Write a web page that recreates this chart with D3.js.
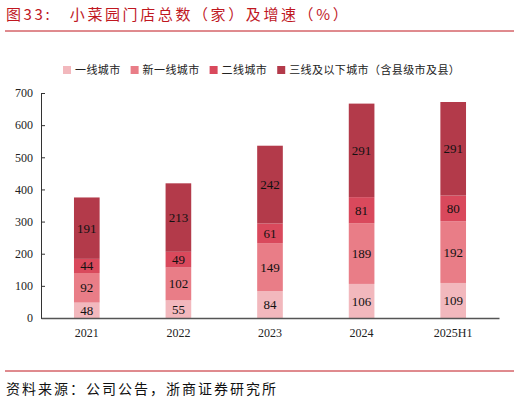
<!DOCTYPE html>
<html>
<head>
<meta charset="utf-8">
<script src="https://cdn.jsdelivr.net/npm/d3@7/dist/d3.min.js"></script>
<style>
  body { margin: 0; background: #fff; }
  svg { display: block; }
</style>
</head>
<body>
<svg id="chart" width="520" height="402"></svg>
<script>
// data
const years = ['2021', '2022', '2023', '2024', '2025H1'];
const seriesNames = ['一线城市', '新一线城市', '二线城市', '三线及以下城市（含县级市及县）'];
const tier1 = [48, 55, 84, 106, 109];
const newTier1 = [92, 102, 149, 189, 192];
const tier2 = [44, 49, 61, 81, 80];
const tier3 = [191, 213, 242, 291, 291];
const yTicks = [0, 100, 200, 300, 400, 500, 600, 700];

const colors = ['#f2b8bd', '#e97d87', '#d9495c', '#b33a4a'];
const serif = "'Liberation Serif', 'Times New Roman', serif";
const cjk = "'Noto Sans CJK SC', sans-serif";

const svg = d3.select('#chart');
const margin = { left: 41, right: 21, top: 93, bottom: 84 };
const W = 520, H = 402;

// title + rules
svg.append('text')
  .attr('x', 6).attr('y', 20)
  .attr('fill', '#c0171f')
  .attr('font-family', cjk)
  .attr('font-size', 15)
  .attr('letter-spacing', 2.6)
  .text('图33:　小菜园门店总数（家）及增速（%）');

svg.append('line')
  .attr('x1', 5).attr('x2', 514).attr('y1', 31).attr('y2', 31)
  .attr('stroke', '#c0171f').attr('stroke-width', 1);

svg.append('line')
  .attr('x1', 5).attr('x2', 514).attr('y1', 371).attr('y2', 371)
  .attr('stroke', '#c0171f').attr('stroke-width', 1);

svg.append('text')
  .attr('x', 6).attr('y', 394)
  .attr('fill', '#111')
  .attr('font-family', cjk)
  .attr('font-size', 14)
  .attr('letter-spacing', 2)
  .text('资料来源：公司公告，浙商证券研究所');

// stack the series
const rows = years.map((y, i) => ({ year: y, s0: tier1[i], s1: newTier1[i], s2: tier2[i], s3: tier3[i] }));
const stacked = d3.stack().keys(['s0', 's1', 's2', 's3'])(rows);

const x = d3.scaleBand()
  .domain(years)
  .range([margin.left, W - margin.right])
  .paddingInner(0.72)
  .paddingOuter(0.36);

const y = d3.scaleLinear()
  .domain([0, 700])
  .range([H - margin.bottom, margin.top]);

const layers = svg.append('g').selectAll('g')
  .data(stacked)
  .enter()
  .append('g')
  .attr('fill', (d, i) => colors[i]);

layers.selectAll('rect')
  .data(d => d)
  .enter()
  .append('rect')
  .attr('x', d => x(d.data.year))
  .attr('y', d => y(d[1]))
  .attr('width', x.bandwidth())
  .attr('height', d => y(d[0]) - y(d[1]));

layers.selectAll('text')
  .data(d => d)
  .enter()
  .append('text')
  .attr('x', d => x(d.data.year) + x.bandwidth() / 2)
  .attr('y', d => (y(d[0]) + y(d[1])) / 2)
  .attr('dy', '0.35em')
  .attr('text-anchor', 'middle')
  .attr('fill', '#111')
  .attr('font-family', serif)
  .attr('font-size', 13)
  .text(d => d[1] - d[0]);

// axes
const yAxis = svg.append('g')
  .attr('transform', `translate(${margin.left},0)`)
  .call(d3.axisLeft(y).tickValues(yTicks).tickSize(4).tickSizeOuter(0));
yAxis.select('.domain').attr('stroke', '#333');
yAxis.selectAll('.tick line').attr('stroke', '#333').attr('x2', 4);
yAxis.selectAll('.tick text')
  .attr('x', -8)
  .attr('fill', '#222')
  .attr('font-family', serif)
  .attr('font-size', 12);

const xAxis = svg.append('g')
  .attr('transform', `translate(0,${H - margin.bottom})`)
  .call(d3.axisBottom(x).tickSize(0).tickSizeOuter(0));
xAxis.select('.domain').attr('stroke', '#555').attr('stroke-width', 1.5);
xAxis.selectAll('.tick text')
  .attr('dy', '1.3em')
  .attr('fill', '#222')
  .attr('font-family', serif)
  .attr('font-size', 12);

// legend
const legendItems = seriesNames.map((n, i) => ({ name: n, color: colors[i] }));
const legend = svg.append('g').attr('transform', 'translate(0,70)');
let lx = 63;
legendItems.forEach(item => {
  const g = legend.append('g').attr('transform', `translate(${lx},0)`);
  g.append('rect')
    .attr('x', 0).attr('y', -4)
    .attr('width', 8).attr('height', 8)
    .attr('fill', item.color);
  const t = g.append('text')
    .attr('x', 12).attr('y', 0)
    .attr('dy', '0.35em')
    .attr('fill', '#222')
    .attr('font-family', cjk)
    .attr('font-size', 11)
    .attr('letter-spacing', 0.4)
    .text(item.name);
  lx += 12 + t.node().getComputedTextLength() + 10;
});
</script>
</body>
</html>
